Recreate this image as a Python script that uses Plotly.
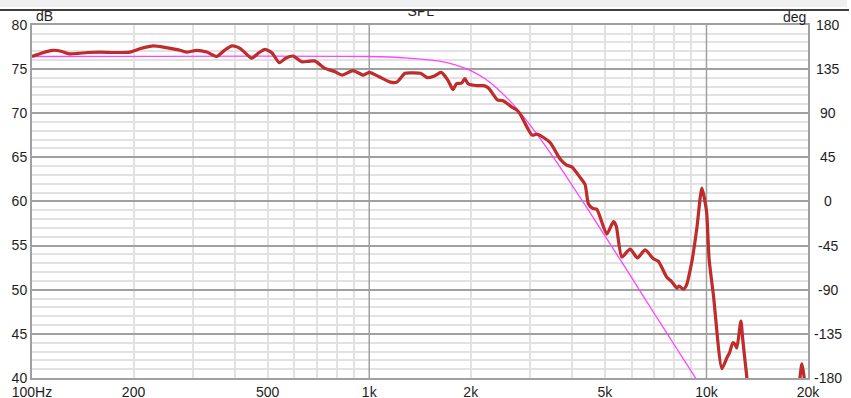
import math
import plotly.graph_objects as go

# ---------------- data ----------------
freq_hz = [100, 107, 115, 122, 129, 137, 146, 160, 175, 195, 210, 229, 250, 275, 287,
           308, 330, 353, 372, 392, 415, 448, 470, 491, 515, 541, 565, 595, 630, 660,
           689, 739, 790, 832, 895, 961, 1000, 1070, 1155, 1208, 1277, 1350, 1420, 1486,
           1560, 1634, 1712, 1771, 1814, 1880, 1920, 1966, 2088, 2184, 2260, 2399, 2495,
           2641, 2745, 2800, 2936, 3040, 3150, 3430, 3681, 3850, 3987, 4220, 4365, 4466,
           4600, 4729, 5065, 5297, 5400, 5610, 5936, 6240, 6578, 6961, 7204, 7630, 7889,
           8170, 8300, 8548, 8700, 9052, 9366, 9691, 10000, 10184, 10491, 11110, 11497,
           11700, 11976, 12150, 12300, 12650, 12800, 13180, 13500, 15000, 17000, 18700,
           19190, 19900, 20000]
spl_db = [76.4, 76.8, 77.1, 77.0, 76.7, 76.75, 76.85, 76.9, 76.85, 76.9, 77.3, 77.6, 77.4,
          77.1, 76.9, 77.1, 76.9, 76.4, 77.1, 77.6, 77.3, 76.2, 76.8, 77.2, 76.8, 75.7,
          76.2, 76.45, 75.8, 75.85, 75.9, 75.05, 74.7, 74.3, 74.8, 74.3, 74.6, 74.1, 73.5,
          73.5, 74.5, 74.55, 74.5, 74.0, 74.2, 74.6, 73.7, 72.65, 73.3, 73.4, 73.9, 73.3,
          73.1, 73.1, 72.8, 71.5, 71.4, 70.7, 70.3, 69.9, 68.4, 67.5, 67.6, 66.7, 64.8,
          64.1, 63.9, 62.7, 61.9, 59.7, 59.2, 59.1, 56.3, 57.7, 57.2, 53.7, 54.6, 53.6,
          54.5, 53.5, 53.2, 51.4, 50.9, 50.2, 50.4, 50.05, 50.4, 53.2, 57.0, 61.5, 58.9,
          53.4, 49.3, 41.07, 42.3, 42.85, 44.0, 43.8, 43.4, 46.45, 44.5, 40.0, 37.0, 33.0,
          33.0, 38.5, 41.6, 37.0, 36.5]

target_freq = [100, 1000, 1300, 1600, 1800, 2000, 2200, 2400, 2600, 2800, 3000, 3300,
               3600, 4000, 4500, 5000, 6000, 7000, 8000, 9000, 10000]
target_db = [76.4, 76.4, 76.22, 75.9, 75.46, 74.8, 73.9, 72.76, 71.46, 70.07, 68.63,
             66.48, 64.41, 61.79, 58.8, 56.09, 51.37, 47.3, 43.85, 40.8, 38.06]

x_tick_vals = [100, 200, 500, 1000, 2000, 5000, 10000, 20000]
x_tick_text = ["100Hz", "200", "500", "1k", "2k", "5k", "10k", "20k"]
x_minor_vals = [200, 300, 400, 500, 600, 700, 800, 900,
                2000, 3000, 4000, 5000, 6000, 7000, 8000, 9000]
x_major_lines = [1000, 10000]
y_tick_vals = [40, 45, 50, 55, 60, 65, 70, 75, 80]
deg_tick_vals = [180, 135, 90, 45, 0, -45, -90, -135, -180]

# ---------------- layout geometry ----------------
W, H = 851, 398
L, R, T, B = 32, 43, 11, 20
PW, PH = W - L - R, H - T - B
plot_top_px = 24.7
main_top = (H - B - plot_top_px) / PH

FONT = "Liberation Sans, Arial, sans-serif"
TXT = "#1e1e1e"
DARK = "#a0a0a0"
LIGHT = "#e2e2e2"

fig = go.Figure()

fig.add_trace(go.Scatter(x=target_freq, y=target_db, mode="lines",
                         line=dict(color="#ff44ff", width=1.3, shape="spline", smoothing=0.8),
                         hoverinfo="skip", showlegend=False))
fig.add_trace(go.Scatter(x=freq_hz, y=spl_db, mode="lines",
                         line=dict(color="#a83030", width=3.2, shape="spline", smoothing=0.6),
                         hoverinfo="skip", showlegend=False))
fig.add_trace(go.Scatter(x=freq_hz, y=spl_db, mode="lines",
                         line=dict(color="#e02424", width=1.2, shape="spline", smoothing=0.6),
                         hoverinfo="skip", showlegend=False))
# phase axis holder (no data drawn)
fig.add_trace(go.Scatter(x=[100], y=[0], yaxis="y2", mode="markers",
                         marker=dict(opacity=0), hoverinfo="skip", showlegend=False))
# title, clipped by the top strip like in the reference
fig.add_trace(go.Scatter(x=[(420.8 - L) / PW], y=[0.86], xaxis="x3", yaxis="y3",
                         mode="text", text=["SPL"], textposition="middle center",
                         textfont=dict(family=FONT, size=14, color=TXT),
                         cliponaxis=True, hoverinfo="skip", showlegend=False))

shapes = []
for xv in x_major_lines:
    shapes.append(dict(type="line", xref="x", yref="y", x0=xv, x1=xv, y0=40, y1=80,
                       line=dict(color=DARK, width=1.5), layer="between"))
# top window strip + black rule
shapes.append(dict(type="rect", xref="paper", yref="paper",
                   x0=-L / PW, x1=(847 - L) / PW, y0=1 + (T - 7) / PH, y1=1 + T / PH,
                   fillcolor="#f0f0f0", line=dict(width=0), layer="above"))
shapes.append(dict(type="line", xref="paper", yref="paper",
                   x0=-L / PW, x1=(849 - L) / PW, y0=1 + (T - 10) / PH, y1=1 + (T - 10) / PH,
                   line=dict(color="#000000", width=1.5), layer="above"))

annotations = []
for d in deg_tick_vals:
    annotations.append(dict(x=(828 - L) / PW, xref="paper", y=d, yref="y2",
                            text=str(d), showarrow=False, xanchor="center", yanchor="middle",
                            font=dict(family=FONT, size=14, color=TXT)))
annotations.append(dict(x=(34 - L) / PW, xref="paper", y=1 - (16.5 - T) / PH, yref="paper",
                        text="dB", showarrow=False, xanchor="left", yanchor="middle",
                        font=dict(family=FONT, size=14, color=TXT)))
annotations.append(dict(x=(807.5 - L) / PW, xref="paper", y=1 - (17 - T) / PH, yref="paper",
                        text="deg", showarrow=False, xanchor="right", yanchor="middle",
                        font=dict(family=FONT, size=14, color=TXT)))

fig.update_layout(
    width=W, height=H,
    margin=dict(l=L, r=R, t=T, b=B, pad=0, autoexpand=False),
    paper_bgcolor="white", plot_bgcolor="white",
    font=dict(family=FONT, size=14, color=TXT),
    xaxis=dict(type="log", range=[2, math.log10(20000)], tickmode="array",
               tickvals=x_tick_vals, ticktext=x_tick_text, showgrid=False,
               minor=dict(tickmode="array", tickvals=x_minor_vals, showgrid=True,
                          gridcolor=LIGHT, gridwidth=1.5),
               showline=True, mirror=True, linecolor=DARK, linewidth=2, automargin=False,
               ticks="", zeroline=False, tickfont=dict(family=FONT, size=14, color=TXT)),
    yaxis=dict(range=[40, 80], domain=[0, main_top], tickmode="array", tickvals=y_tick_vals,
               showgrid=True, gridcolor=DARK, gridwidth=1.5, automargin=False,
               minor=dict(dtick=1, showgrid=True, gridcolor=LIGHT, gridwidth=1.5),
               showline=True, mirror=True, linecolor=DARK, linewidth=2,
               ticks="", zeroline=False, tickfont=dict(family=FONT, size=14, color=TXT)),
    yaxis2=dict(range=[-180, 180], overlaying="y", side="right", showgrid=False,
                showticklabels=False, showline=False, zeroline=False, ticks="",
                automargin=False),
    xaxis3=dict(domain=[0, 1], range=[0, 1], visible=False, anchor="y3", automargin=False),
    yaxis3=dict(domain=[main_top, 1], range=[0, 1], visible=False, anchor="x3",
                automargin=False),
    shapes=shapes, annotations=annotations,
    showlegend=False,
)

fig.write_html("out.html")
